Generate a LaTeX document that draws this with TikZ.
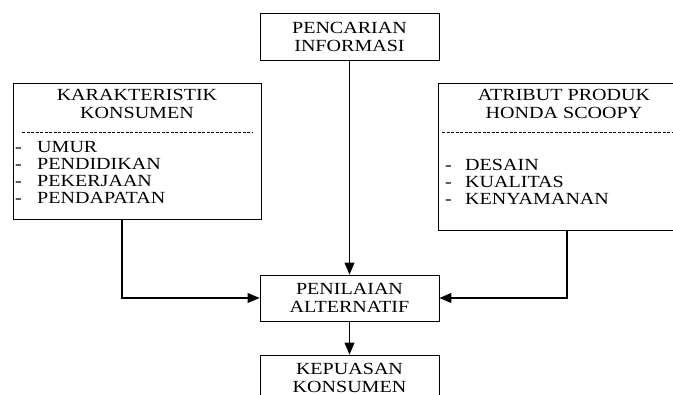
\documentclass[tikz,border=0pt]{standalone}
\usepackage{fontspec}
\setmainfont{Liberation Serif}[FakeStretch=1.18]
\usetikzlibrary{arrows}
\usetikzlibrary{positioning}

\begin{document}
\begin{tikzpicture}[x=1pt,y=-1pt,font=\fontsize{17}{18}\selectfont]
      \useasboundingbox (0,0) rectangle (673,395);
      \clip (0,0) rectangle (673,395);

      \begin{scope}[shape=rectangle,line width=0.8pt,inner sep=0pt,text width=179pt,align=center]
          \tikzstyle{every node}=[draw]
          \node[minimum width=179pt,minimum height=47pt] (info) at (349.5,36.5) {PENCARIAN\\INFORMASI};
          \node[minimum width=179pt,minimum height=46pt] (nil)  at (349.5,298)  {PENILAIAN\\ALTERNATIF};
          \node[minimum width=179pt,minimum height=46pt] (kep)  at (349.5,378)  {KEPUASAN\\KONSUMEN};
          \node[text width=248pt,minimum height=136pt] (kar) at (137,151)   {};
          \node[text width=252pt,minimum height=147pt] (atr) at (564,156.5) {};
      \end{scope}

      % isi kotak kiri
      \node[align=center] (karjudul) at (137,104) {KARAKTERISTIK\\KONSUMEN};
      \draw[dash pattern=on 3pt off 1.5pt] (22,132) -- (252,132);
      \node[anchor=north west,inner sep=0pt,align=left,font=\fontsize{17}{17}\selectfont] (karisi) at (15,141.5)
           {\makebox[22pt][l]{-}UMUR\\\makebox[22pt][l]{-}PENDIDIKAN\\\makebox[22pt][l]{-}PEKERJAAN\\\makebox[22pt][l]{-}PENDAPATAN};

      % isi kotak kanan
      \node[align=center] (atrjudul) at (564,104) {ATRIBUT PRODUK\\HONDA SCOOPY};
      \draw[dash pattern=on 3pt off 1.5pt] (442,132) -- (673,132);
      \node[anchor=north west,inner sep=0pt,align=left,font=\fontsize{17}{17}\selectfont] (atrisi) at (445,159.5)
           {\makebox[20pt][l]{-}DESAIN\\\makebox[20pt][l]{-}KUALITAS\\\makebox[20pt][l]{-}KENYAMANAN};

      \coordinate (karbawah) at (122,219);
      \coordinate (atrbawah) at (567,230);

      \draw[->,line width=1.8pt,>=triangle 45]     (info)     -- (nil);
      \draw[->,line width=1.8pt,>=triangle 45]     (karbawah) |- (nil.west);
      \draw[->,line width=1.8pt,>=triangle 45]     (atrbawah) |- (nil.east);
      \draw[->,line width=1.8pt,>=triangle 45]     (nil)      -- (kep);
  \end{tikzpicture}
\end{document}
